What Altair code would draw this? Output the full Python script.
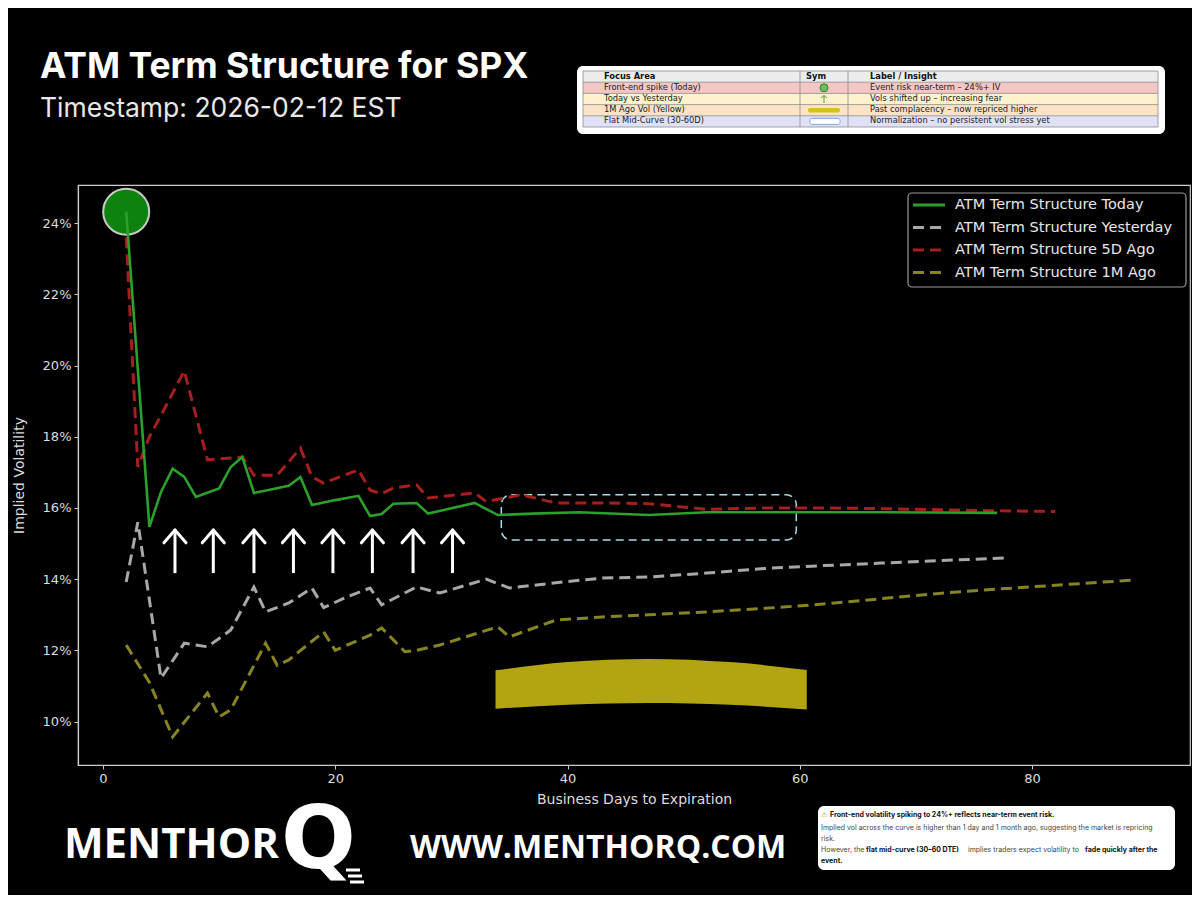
import altair as alt
import pandas as pd

# ---------------- data ----------------
series_names = ["ATM Term Structure Today", "ATM Term Structure Yesterday",
                "ATM Term Structure 5D Ago", "ATM Term Structure 1M Ago"]
series_colors = ["#2ca02c", "#a8a8a8", "#a51f1f", "#878424"]

today_x = [2, 4, 5, 6, 7, 8, 10, 11, 12, 13, 16, 17, 18, 20, 22, 23, 24, 25, 27, 28,
           32, 34, 37, 41, 47, 52, 57, 62, 67, 72, 77]
today_v = [24.32, 15.47, 16.45, 17.1, 16.87, 16.31, 16.55, 17.15, 17.43, 16.42,
           16.62, 16.87, 16.08, 16.22, 16.34, 15.77, 15.83, 16.12, 16.14, 15.84,
           16.14, 15.8, 15.84, 15.88, 15.8, 15.88, 15.88, 15.88, 15.88, 15.87, 15.86]

yest_x = [2, 3, 5, 7, 9, 11, 13, 14, 16, 18, 19, 21, 23, 24, 27, 29, 33, 35, 39, 43,
          47, 52, 57, 62, 67, 72, 78]
yest_v = [13.92, 15.6, 11.22, 12.2, 12.1, 12.57, 13.78, 13.08, 13.33, 13.75,
          13.2, 13.5, 13.75, 13.28, 13.78, 13.61, 14.0, 13.75, 13.9, 14.03,
          14.06, 14.17, 14.3, 14.38, 14.45, 14.52, 14.6]

d5_x = [2, 3, 4, 5, 7, 9, 12, 13, 15, 17, 18, 19, 22, 23, 24, 25, 27, 28, 32, 33,
        36, 39, 43, 47, 52, 57, 62, 67, 72, 77, 82]
d5_v = [23.6, 17.15, 18.0, 18.6, 19.85, 17.35, 17.43, 16.92, 16.92, 17.68,
        16.87, 16.7, 17.07, 16.5, 16.4, 16.56, 16.65, 16.28, 16.42, 16.18,
        16.37, 16.14, 16.14, 16.12, 15.96, 16.0, 16.0, 15.98, 15.95, 15.92, 15.9]

m1_x = [2, 4, 6, 9, 10, 11, 14, 15, 16, 19, 20, 23, 24, 26, 27, 29, 34, 35, 39, 43,
        47, 52, 57, 62, 67, 72, 77, 83, 89]
m1_v = [12.15, 11.1, 9.57, 10.8, 10.13, 10.33, 12.2, 11.58, 11.73, 12.52,
        12.0, 12.43, 12.63, 11.96, 12.0, 12.15, 12.66, 12.38, 12.85, 12.94,
        13.0, 13.08, 13.18, 13.3, 13.45, 13.6, 13.72, 13.85, 13.98]

x_ticks = [0, 20, 40, 60, 80]
y_ticks = [10, 12, 14, 16, 18, 20, 22, 24]

# annotations (data units)
arrow_x = [6.2, 9.5, 13.0, 16.4, 19.8, 23.2, 26.7, 30.1]
arrow_base, arrow_tip, arrow_wing, arrow_half = 14.17, 15.38, 15.02, 0.95
box_x = [34.3, 59.7]
box_v = [16.37, 15.1]
band_x = [33.8, 40, 47, 54, 60.6]
band_top = [11.44, 11.67, 11.76, 11.67, 11.45]
band_bot = [10.36, 10.47, 10.52, 10.47, 10.34]

table_head = ["Focus Area", "Sym", "Label / Insight"]
table_focus = ["Front-end spike (Today)", "Today vs Yesterday",
               "1M Ago Vol (Yellow)", "Flat Mid-Curve (30-60D)"]
table_label = ["Event risk near-term – 24%+ IV", "Vols shifted up – increasing fear",
               "Past complacency – now repriced higher",
               "Normalization – no persistent vol stress yet"]
table_colors = ["#ececec", "#f4c6c6", "#fdf2cc", "#fde3c6", "#e0e1f6"]

# ---------------- layout ----------------
W, H = 1112, 580
OX, OY = 78, 185          # plot origin on the page
X_DOM = [-2.15, 93.6]
Y_DOM = [8.78, 25.07]
xs = alt.Scale(domain=X_DOM, nice=False, zero=False)
ys = alt.Scale(domain=Y_DOM, nice=False, zero=False)
X_AX = alt.Axis(title="Business Days to Expiration", values=x_ticks, labelPadding=3,
                titlePadding=7)
Y_AX = alt.Axis(title="Implied Volatility", values=y_ticks, labelExpr="datum.value + '%'",
                labelPadding=3, titlePadding=16)

def X(f):
    return alt.X(f, scale=xs, axis=X_AX)

def Y(f):
    return alt.Y(f, scale=ys, axis=Y_AX)

ONE = alt.Data(values=[{"k": 1}])

def T(text, x, y, size, color, weight="normal", font="DejaVu Sans", align="left",
      baseline="middle"):
    return alt.Chart(ONE).mark_text(text=text, align=align, baseline=baseline, font=font,
                                    fontSize=size, fontWeight=weight, color=color).encode(
        x=alt.value(x - OX), y=alt.value(y - OY))

def R(x1, y1, x2, y2, **kw):
    return alt.Chart(ONE).mark_rect(**kw).encode(
        x=alt.value(x1 - OX), x2=alt.value(x2 - OX), y=alt.value(y1 - OY), y2=alt.value(y2 - OY))

def L(x1, y1, x2, y2, **kw):
    return alt.Chart(ONE).mark_rule(**kw).encode(
        x=alt.value(x1 - OX), x2=alt.value(x2 - OX), y=alt.value(y1 - OY), y2=alt.value(y2 - OY))

# ---------------- data frames ----------------
dashed = pd.concat([
    pd.DataFrame({"x": yest_x, "v": yest_v, "series": series_names[1]}),
    pd.DataFrame({"x": d5_x, "v": d5_v, "series": series_names[2]}),
    pd.DataFrame({"x": m1_x, "v": m1_v, "series": series_names[3]}),
])
today = pd.DataFrame({"x": today_x, "v": today_v})
spike = today.iloc[[0]]

band = pd.DataFrame({"x": band_x, "top": band_top, "bot": band_bot})
box = pd.DataFrame({"x1": [box_x[0]], "x2": [box_x[1]], "y1": [box_v[0]], "y2": [box_v[1]]})
shafts = pd.DataFrame({"x": arrow_x, "v": [arrow_base] * len(arrow_x), "v2": [arrow_tip] * len(arrow_x)})
wings = pd.DataFrame({
    "x": [a - arrow_half for a in arrow_x] + [a + arrow_half for a in arrow_x],
    "x2": arrow_x + arrow_x,
    "v": [arrow_wing] * (2 * len(arrow_x)),
    "v2": [arrow_tip] * (2 * len(arrow_x)),
})

layers = []

layers.append(alt.Chart(band).mark_area(color="#b3a512", interpolate="monotone").encode(
    x=X("x:Q"), y=Y("top:Q"), y2="bot:Q"))

layers.append(alt.Chart(box).mark_rect(fill="#000000", fillOpacity=0, stroke="#a6dce2",
                                       strokeWidth=1.5, strokeDash=[8, 5], cornerRadius=10).encode(
    x=X("x1:Q"), x2="x2:Q", y=Y("y1:Q"), y2="y2:Q"))

layers.append(alt.Chart(dashed).mark_line(strokeWidth=3).encode(
    x=X("x:Q"), y=Y("v:Q"),
    color=alt.Color("series:N", scale=alt.Scale(domain=series_names[1:], range=series_colors[1:]),
                    legend=None),
    strokeDash=alt.StrokeDash("series:N", scale=alt.Scale(domain=series_names[1:],
                                                          range=[[11, 6], [11, 6], [11, 6]]),
                              legend=None)))

layers.append(alt.Chart(spike).mark_point(shape="circle", filled=True, size=2116, fill="#0e8a0e",
                                          fillOpacity=0.95, opacity=1, stroke="#c9c9c9",
                                          strokeWidth=2).encode(x=X("x:Q"), y=Y("v:Q")))

layers.append(alt.Chart(today).mark_line(color=series_colors[0], strokeWidth=2.6).encode(
    x=X("x:Q"), y=Y("v:Q")))

layers.append(alt.Chart(shafts).mark_rule(color="white", strokeWidth=3).encode(
    x=X("x:Q"), y=Y("v:Q"), y2="v2:Q"))
layers.append(alt.Chart(wings).mark_rule(color="white", strokeWidth=3, strokeCap="round").encode(
    x=X("x:Q"), x2="x2:Q", y=Y("v:Q"), y2="v2:Q"))

# legend (custom box)
layers.append(R(908, 193, 1186, 287, fill="#000000", stroke="#9a9a9a", strokeWidth=1.2, cornerRadius=4))
dashes = [[1, 0], [11, 6], [11, 6], [11, 6]]
for i, nm in enumerate(series_names):
    yy = 205 + 22.5 * i
    layers.append(L(913, yy, 945, yy, color=series_colors[i], strokeWidth=3, strokeDash=dashes[i]))
    layers.append(T(nm, 955, yy, 14.5, "#e8e8e8"))

# title
layers.append(T("ATM Term Structure for SPX", 40, 78, 35.5, "#ffffff", weight="bold",
                font="Inter", baseline="alphabetic"))
layers.append(T("Timestamp: 2026-02-12 EST", 40, 117, 26.5, "#e8e8e8", font="Inter",
                baseline="alphabetic"))

# table box
layers.append(R(577, 66, 1165, 134, fill="#ffffff", cornerRadius=6))
row_tops = [71 + 11.2 * i for i in range(6)]
for i in range(5):
    layers.append(R(583, row_tops[i], 1158, row_tops[i + 1], fill=table_colors[i]))
for yb in row_tops:
    layers.append(L(583, yb, 1158, yb, color="#8a8a8a", strokeWidth=0.8))
for xb in [583, 800, 848, 1158]:
    layers.append(L(xb, row_tops[0], xb, row_tops[-1], color="#8a8a8a", strokeWidth=0.8))
cy = [(row_tops[i] + row_tops[i + 1]) / 2 for i in range(5)]
layers.append(T(table_head[0], 604, cy[0], 8.3, "#111111", weight="bold"))
layers.append(T(table_head[1], 806, cy[0], 8.3, "#111111", weight="bold"))
layers.append(T(table_head[2], 870, cy[0], 8.3, "#111111", weight="bold"))
for i in range(4):
    layers.append(T(table_focus[i], 604, cy[i + 1], 8.3, "#222222"))
    layers.append(T(table_label[i], 870, cy[i + 1], 8.3, "#222222"))
layers.append(alt.Chart(ONE).mark_point(shape="circle", filled=True, size=64, fill="#6abf5a",
                                        stroke="#3a7d2a", strokeWidth=1, opacity=1).encode(
    x=alt.value(824 - OX), y=alt.value(cy[1] - OY)))
layers.append(L(824, cy[2] + 4, 824, cy[2] - 3.5, color="#6f8f3a", strokeWidth=1))
layers.append(L(821, cy[2] - 1, 824, cy[2] - 3.5, color="#6f8f3a", strokeWidth=1))
layers.append(L(827, cy[2] - 1, 824, cy[2] - 3.5, color="#6f8f3a", strokeWidth=1))
layers.append(R(808, cy[3] - 2.3, 840, cy[3] + 2.3, fill="#d2c21e", cornerRadius=2))
layers.append(R(810, cy[4] - 3, 840, cy[4] + 3, fill="#ffffff", stroke="#7ea7d8",
                strokeWidth=1, cornerRadius=2))

# footer logo + url
layers.append(T("MENTHOR", 64, 858, 42, "#ffffff", weight="bold", font="Open Sans",
                baseline="alphabetic"))
layers.append(T("Q", 281, 868, 88, "#ffffff", weight="bold", font="DejaVu Sans",
                baseline="alphabetic"))
for k in range(3):
    layers.append(L(346 + 2 * k, 870 + 6 * k, 360 + 2 * k, 870 + 6 * k, color="#ffffff", strokeWidth=3))
layers.append(T("WWW.MENTHORQ.COM", 410, 858, 32, "#ffffff", weight="bold", font="Open Sans",
                baseline="alphabetic"))

# footer note box
layers.append(R(818, 806, 1175, 870, fill="#ffffff", cornerRadius=6))
layers.append(T("⚠", 821, 815, 7.5, "#e0b000"))
layers.append(T("Front-end volatility spiking to 24%+ reflects near-term event risk.", 830, 815, 7,
                "#111111", weight="bold", font="Inter"))
layers.append(T("Implied vol across the curve is higher than 1 day and 1 month ago, suggesting the market is repricing",
                821, 827.5, 7, "#444444", font="Inter"))
layers.append(T("risk.", 821, 838.5, 7, "#444444", font="Inter"))
layers.append(T("However, the", 821, 850, 7, "#444444", font="Inter"))
layers.append(T("flat mid-curve (30–60 DTE)", 866, 850, 7, "#111111", weight="bold", font="Inter"))
layers.append(T("implies traders expect volatility to", 968, 850, 7, "#444444", font="Inter"))
layers.append(T("fade quickly after the", 1085, 850, 7, "#111111", weight="bold", font="Inter"))
layers.append(T("event.", 821, 860.5, 7, "#111111", weight="bold", font="Inter"))

chart = alt.layer(*layers).properties(
    width=W, height=H,
    autosize=alt.AutoSizeParams(type="none"),
    padding={"left": OX - 8, "top": OY - 8, "right": 2, "bottom": 130},
).configure(background="#000000").configure_view(
    stroke="#cccccc", strokeWidth=1.2
).configure_axis(
    grid=False, domainColor="#cccccc", tickColor="#cccccc", labelColor="#dddddd",
    titleColor="#dddddd", labelFontSize=13, titleFontSize=14, titleFontWeight="normal",
    tickSize=4, labelFont="DejaVu Sans", titleFont="DejaVu Sans", domainWidth=1.2
)

chart.save("out.html", embed_options={"renderer": "svg", "actions": False})
